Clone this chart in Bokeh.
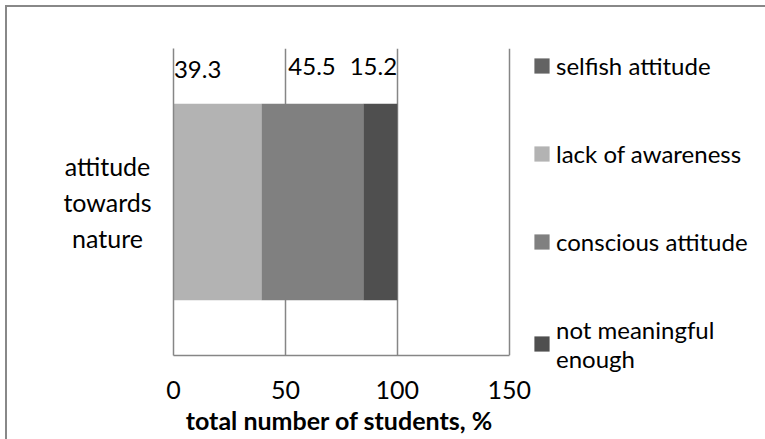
from bokeh.plotting import figure
from bokeh.models import (Range1d, FactorRange, FixedTicker, Legend, LegendItem,
                          Title, ColumnDataSource, Label)
from bokeh.core.properties import value
from bokeh.embed import file_html
from bokeh.resources import INLINE

# ---- data ----
categories = ["attitude towards nature"]
series_names = ["selfish attitude", "lack of awareness", "conscious attitude", "not meaningful enough"]
series_values = [0.0, 39.3, 45.5, 15.2]
value_labels = ["39.3", "45.5", "15.2"]
x_ticks = [0, 50, 100, 150]
x_title = "total number of students,  %"

# ---- styles ----
colors = ["#636363", "#b3b3b3", "#808080", "#4f4f4f"]
FONT = "Lato"
FS = "25px"
label_x_pos = [0.2, 51.3, 99.9]          # value label anchor positions (data x)
label_align = ["left", "left", "right"]
label_dy = [-133, -136, -136]            # pixel offsets from bar centre

p = figure(output_backend="svg", toolbar_location=None,
           x_range=Range1d(0, 151), y_range=FactorRange(*categories),
           frame_width=338, frame_height=307,
           min_border_left=166, min_border_right=0, min_border_top=41,
           min_border_bottom=84, outline_line_color=None,
           margin=(5, 0, 0, 5),
           styles={"border-top": "2px solid #888888",
                   "border-left": "2px solid #888888",
                   "border-right": "none", "border-bottom": "none"})

# stacked bars
renderers = []
left = 0.0
for name, v, c in zip(series_names, series_values, colors):
    src = ColumnDataSource(dict(y=categories, left=[left], right=[left + v]))
    r = p.hbar(y="y", left="left", right="right", height=0.64, source=src,
               fill_color=c, line_color=None)
    renderers.append(r)
    left += v

# value labels
lsrc = ColumnDataSource(dict(x=label_x_pos, y=categories * 3, t=value_labels,
                             a=label_align, dy=label_dy))
p.text(x="x", y="y", text="t", text_align="a", y_offset="dy",
       text_baseline="middle", text_font=value(FONT), text_font_size="24px",
       text_color="#000000", source=lsrc)

# axes
p.xaxis.ticker = FixedTicker(ticks=x_ticks)
p.xaxis.bounds = (0, 150)
p.xaxis.major_tick_line_color = None
p.xaxis.minor_tick_line_color = None
p.xaxis.axis_line_color = "#868686"
p.xaxis.axis_line_width = 1.5
p.xaxis.major_label_text_font = FONT
p.xaxis.major_label_text_font_size = FS
p.xaxis.major_label_text_color = "#000000"
p.xaxis.major_label_standoff = 19

p.yaxis.major_tick_line_color = None
p.yaxis.minor_tick_line_color = None
p.yaxis.axis_line_color = "#868686"
p.yaxis.axis_line_width = 1.5
p.yaxis.major_label_text_color = None
p.yaxis.major_label_text_font_size = "1px"

p.xgrid.ticker = FixedTicker(ticks=x_ticks)
p.xgrid.grid_line_color = "#868686"
p.xgrid.grid_line_width = 1.5
p.ygrid.grid_line_color = None

# category label (left of the bar)
p.add_layout(Label(x=98, y=192, x_units="canvas", y_units="canvas",
                   text="attitude\ntowards\nnature", text_align="center",
                   text_baseline="middle", text_font=FONT, text_font_size=FS,
                   text_color="#000000"), "left")

# axis title
t = Title(text=x_title, align="center", text_font=FONT,
          text_font_size=FS, text_font_style="bold", text_color="#000000",
          standoff=2)
p.add_layout(t, "below")

# legend
items = [LegendItem(label=n, renderers=[r]) for n, r in zip(series_names, renderers)]
items[-1] = LegendItem(label="not meaningful\nenough", renderers=[renderers[-1]])
legend = Legend(items=items, location="center_left", orientation="vertical",
                title=" ", title_text_font_size="12px", title_standoff=6,
                label_text_font=FONT, label_text_font_size="24px",
                label_text_color="#000000", glyph_width=19, glyph_height=19,
                label_standoff=5, label_height=25, spacing=59, padding=0,
                margin=21, border_line_color=None, background_fill_alpha=0)
p.add_layout(legend, "right")

open("out.html", "w").write(file_html(p, INLINE))
